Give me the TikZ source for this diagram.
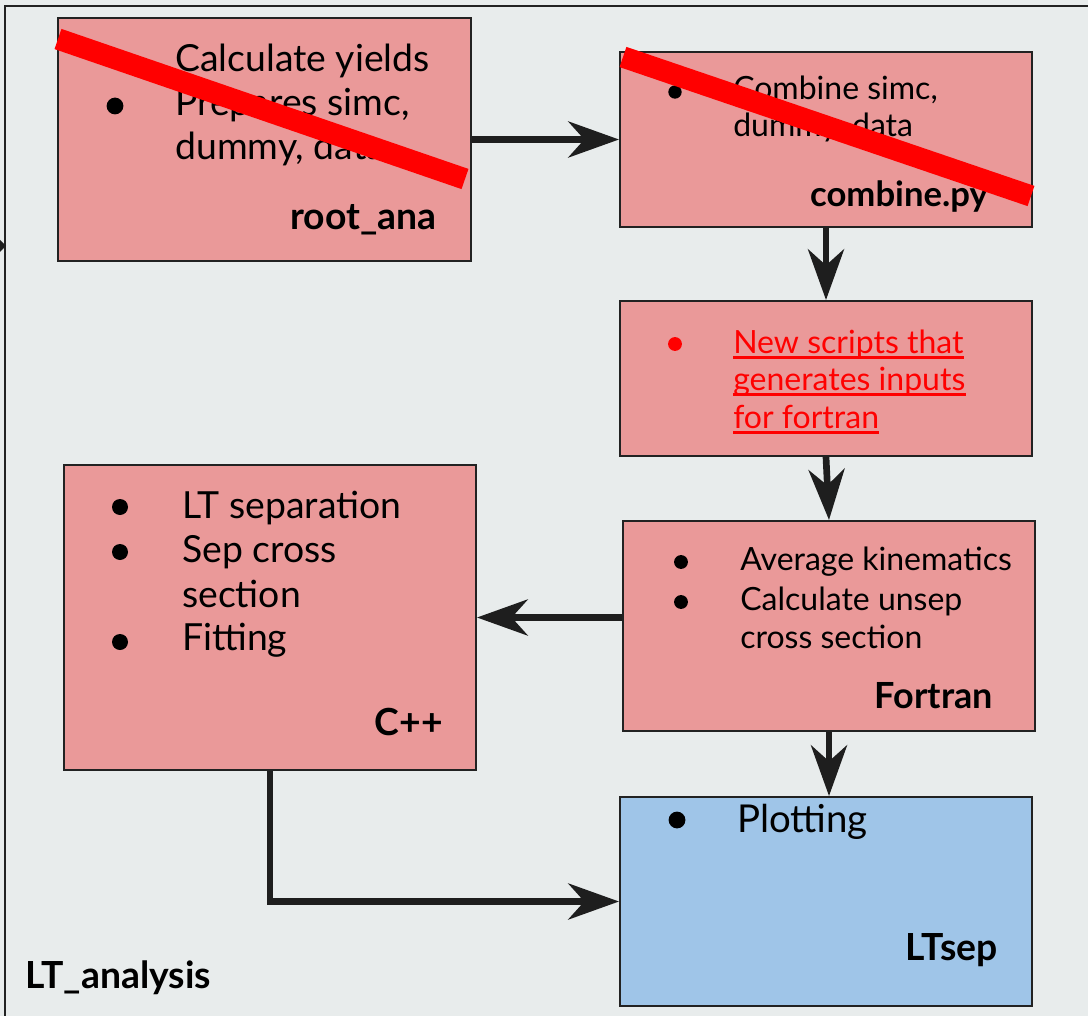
\documentclass[tikz,border=0pt]{standalone}
\usepackage{fontspec}
\setmainfont{Lato}
\usetikzlibrary{arrows.meta}
\definecolor{bg}{HTML}{E8ECEC}
\definecolor{pinkfill}{HTML}{EA9999}
\definecolor{bluefill}{HTML}{9FC5E8}
\definecolor{edgec}{HTML}{222222}
\definecolor{arrc}{HTML}{1E1E1E}
\definecolor{strikec}{HTML}{FF0000}
\begin{document}
\begin{tikzpicture}[x=0.75pt,y=-0.75pt,
  boxbase/.style 2 args={draw=edgec, line width=1.5pt, rectangle, inner sep=0pt,
     anchor=north west, minimum width=#1*0.75pt, minimum height=#2*0.75pt},
  pinkbox/.style 2 args={boxbase={#1}{#2}, fill=pinkfill},
  bluebox/.style 2 args={boxbase={#1}{#2}, fill=bluefill},
  txtbig/.style={font=\fontsize{28}{33}\selectfont, inner sep=0pt, anchor=base west},
  txtmid/.style={font=\fontsize{24}{28}\selectfont, inner sep=0pt, anchor=base west},
  txtsml/.style={font=\fontsize{24}{28}\selectfont, inner sep=0pt, anchor=base west},
  lbl/.style={font=\bfseries\fontsize{28}{32}\selectfont, inner sep=0pt, anchor=base east},
  conn/.style={draw=arrc, line width=5pt, -{Stealth[length=38pt,width=27pt,inset=12pt]}},
  strike/.style={draw=strikec, line width=16pt},
  uline/.style={draw=strikec, line width=1.9pt}
]
\useasboundingbox (0,0) rectangle (1088,1016);
\fill[bg] (0,0) rectangle (1088,1016);
\draw[edgec, line width=1.6pt] (5,1020) -- (5,6) -- (1092,6);
\fill[arrc] (0,240) -- (6,246) -- (0,252) -- cycle;

% boxes
\node[pinkbox={413}{243}] (root) at (57,17) {};
\node[pinkbox={412}{175}] (comb) at (619,51) {};
\node[pinkbox={412}{155}] (news) at (619,300) {};
\node[pinkbox={412}{210}] (fort) at (622,520) {};
\node[pinkbox={412}{305}] (cpp) at (63,464) {};
\node[bluebox={412}{209}] (ltsep) at (619,796) {};

% root_ana text
\fill (115,106) circle[radius=6.3pt];
\node[txtbig] (r1) at (175,72) {Calculate yields};
\node[txtbig] (r2) at (175,116) {Prepares simc,};
\node[txtbig] (r3) at (175,160) {dummy, data};
\node[lbl] (rl) at (437,230) {root\_ana};

% combine text
\fill (675,92) circle[radius=5pt];
\node[txtmid] (c1) at (733,100) {Combine simc,};
\node[txtmid] (c2) at (733,137) {dummy, data};
\node[lbl, font=\bfseries\fontsize{26}{30}\selectfont] (cl) at (988,207) {combine.py};

% new scripts text
\fill[strikec] (675,344) circle[radius=5.2pt];
\node[txtmid, text=strikec] (n1) at (733,353) {New scripts that};
\node[txtmid, text=strikec] (n2) at (733,390) {generates inputs};
\node[txtmid, text=strikec] (n3) at (733,428) {for fortran};
\foreach \n in {n1,n2,n3}
  \draw[uline] ([yshift=-3.2pt]\n.base west) -- ([yshift=-3.2pt]\n.base east);

% fortran text
\fill (681,562) circle[radius=5.2pt];
\fill (681,602) circle[radius=5.2pt];
\node[txtsml] (f1) at (740,570) {Average kinematics};
\node[txtsml] (f2) at (740,610) {Calculate unsep};
\node[txtsml] (f3) at (740,648) {cross section};
\node[lbl, font=\bfseries\fontsize{27}{31}\selectfont] (fl) at (993,708) {Fortran};

% C++ text
\fill (120,507) circle[radius=6pt];
\fill (120,552) circle[radius=6pt];
\fill (120,642) circle[radius=6pt];
\node[txtbig] (p1) at (182,518) {LT separation};
\node[txtbig] (p2) at (182,562) {Sep cross};
\node[txtbig] (p3) at (182,607) {section};
\node[txtbig] (p4) at (182,650) {Fitting};
\node[lbl] (pl) at (443,735) {C++};

% LTsep text
\fill (677,820) circle[radius=6.3pt];
\node[txtbig, font=\fontsize{28.8}{33}\selectfont] (l1) at (737,832) {Plotting};
\node[lbl] (ll) at (998,960) {LTsep};

\node[lbl, anchor=base west] (frame) at (25,988) {LT\_analysis};

% connectors
\draw[conn] (root.east) -- (comb.west);
\draw[conn] (comb.south) -- (news.north);
\draw[conn] (news.south) -- (fort.north);
\draw[conn] (fort.west |- cpp.east) -- (cpp.east);
\draw[conn] (fort.south) -- (fort.south |- ltsep.north);
\draw[conn] (cpp.south) -- (cpp.south |- ltsep.west) -- (ltsep.west);

% strike-through marks
\draw[strike] (58,39) -- (465,179);
\draw[strike] (623,57) -- (1031,196);
\end{tikzpicture}
\end{document}
